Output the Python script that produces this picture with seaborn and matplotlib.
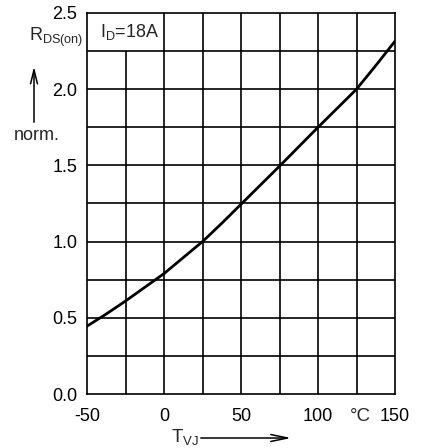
import matplotlib
matplotlib.use("Agg")
import matplotlib.pyplot as plt
import matplotlib.patches as mpatches
import seaborn as sns
import pandas as pd

# Data
temps = [-50, -37.5, -25, -12.5, 0, 12.5, 25, 37.5, 50, 75, 100, 125, 137.5, 150]
rds_norm = [0.445, 0.525, 0.61, 0.70, 0.79, 0.895, 1.0, 1.12, 1.245, 1.495, 1.75, 2.0, 2.155, 2.315]
x_ticks = [-50, 0, 50, 100, 150]
y_ticks = [0.0, 0.5, 1.0, 1.5, 2.0, 2.5]
x_grid = [-25, 0, 25, 50, 75, 100, 125]
y_grid = [0.25, 0.5, 0.75, 1.0, 1.25, 1.5, 1.75, 2.0, 2.25]

sns.set_style("white")
plt.rcParams["font.family"] = ["Liberation Sans", "DejaVu Sans"]
plt.rcParams["mathtext.default"] = "regular"

W, H = 424, 448
fig = plt.figure(figsize=(W / 100, H / 100), dpi=100)
ax = fig.add_axes([87 / W, 54 / H, 308 / W, 381 / H])

df = pd.DataFrame({"T": temps, "R": rds_norm})

# grid (drawn manually so the label cell stays open)
for gx in x_grid:
    top = 2.25 if gx == -25 else 2.5
    ax.vlines(gx, 0, top, color="black", lw=1.2, zorder=1)
for gy in y_grid:
    ax.hlines(gy, -50, 150, color="black", lw=1.2, zorder=1)

sns.lineplot(data=df, x="T", y="R", color="black", lw=2.0, ax=ax, zorder=3)

ax.set_xlim(-50, 150)
ax.set_ylim(0, 2.5)
ax.set_xticks(x_ticks)
ax.set_xticklabels([str(v) for v in x_ticks])
ax.set_yticks(y_ticks)
ax.set_yticklabels([f"{v:.1f}" for v in y_ticks])
ax.tick_params(axis="both", length=0, labelsize=13, colors="black")
ax.tick_params(axis="x", pad=10)
ax.tick_params(axis="y", pad=7)
ax.set_xlabel("")
ax.set_ylabel("")
for s in ax.spines.values():
    s.set_color("black")
    s.set_linewidth(1.2)

# label in top-left cell
ax.text(-41.5, 2.375, r"$I_D$=18A", fontsize=13, va="center", ha="left")

# unit next to x ticks
ax.annotate("°C", xy=(127.5, 0), xycoords="data", xytext=(0, -10),
            textcoords="offset points", ha="center", va="top", fontsize=13.5)

# y-axis label
fig.text(56 / W, 1 - 37 / H, r"$R_{DS(on)}$", fontsize=13, ha="center", va="center")
fig.text(37 / W, 1 - 135 / H, "norm.", fontsize=13, ha="center", va="center")
fig.patches.append(mpatches.FancyArrowPatch(
    (34 / W, 1 - 125 / H), (34 / W, 1 - 64 / H), transform=fig.transFigure,
    arrowstyle="->,head_length=10,head_width=2.5", color="black", lw=1.1,
    mutation_scale=1))

# x-axis label
fig.text(185 / W, 1 - 437 / H, r"$T_{VJ}$", fontsize=13.5, ha="center", va="center")
fig.patches.append(mpatches.FancyArrowPatch(
    (198 / W, 1 - 438 / H), (294 / W, 1 - 438 / H), transform=fig.transFigure,
    arrowstyle="->,head_length=12,head_width=2.5", color="black", lw=1.1,
    mutation_scale=1))

fig.savefig("out.png", dpi=100)
